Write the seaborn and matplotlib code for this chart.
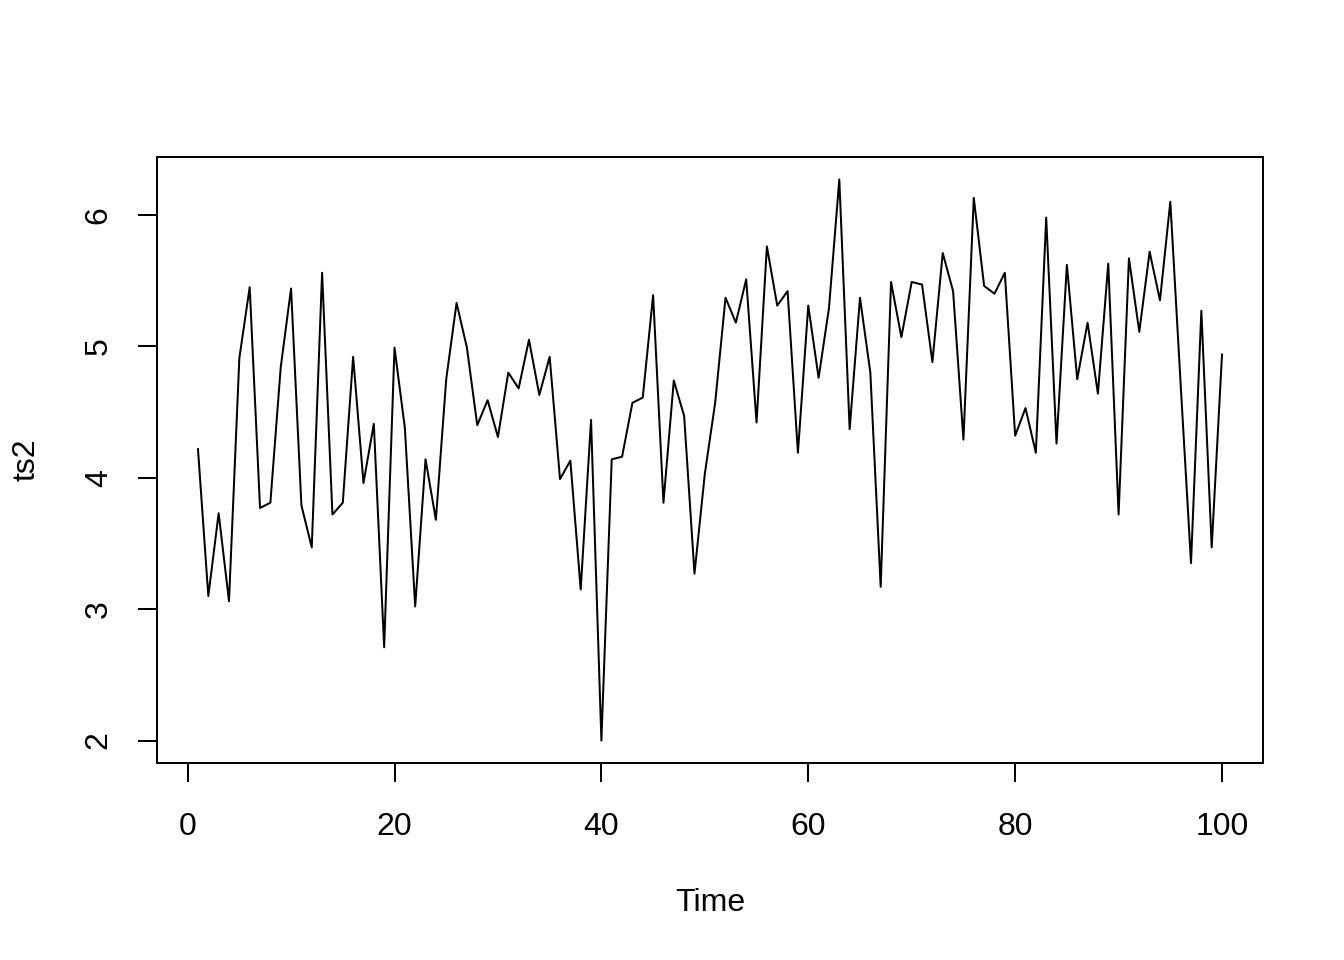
import numpy as np
import pandas as pd
import matplotlib
matplotlib.use("Agg")
import matplotlib.pyplot as plt
import seaborn as sns

time = list(range(1, 101))
ts2 = [
    4.22, 3.10, 3.73, 3.06, 4.91, 5.45, 3.77, 3.81, 4.84, 5.44,
    3.79, 3.47, 5.56, 3.72, 3.81, 4.92, 3.96, 4.41, 2.71, 4.99,
    4.38, 3.02, 4.14, 3.68, 4.75, 5.33, 4.99, 4.40, 4.59, 4.31,
    4.80, 4.68, 5.05, 4.63, 4.92, 3.99, 4.13, 3.15, 4.44, 2.00,
    4.14, 4.16, 4.57, 4.61, 5.39, 3.81, 4.74, 4.47, 3.27, 4.03,
    4.57, 5.37, 5.18, 5.51, 4.42, 5.76, 5.31, 5.42, 4.19, 5.31,
    4.76, 5.29, 6.27, 4.37, 5.37, 4.80, 3.17, 5.49, 5.07, 5.49,
    5.47, 4.88, 5.71, 5.42, 4.29, 6.13, 5.46, 5.40, 5.56, 4.32,
    4.53, 4.19, 5.98, 4.26, 5.62, 4.75, 5.18, 4.64, 5.63, 3.72,
    5.67, 5.11, 5.72, 5.35, 6.10, 4.71, 3.35, 5.27, 3.47, 4.94,
]
x_ticks = [0, 20, 40, 60, 80, 100]
y_ticks = [2, 3, 4, 5, 6]
x_title = "Time"
y_title = "ts2"

df = pd.DataFrame({"Time": time, "ts2": ts2})

sns.set_theme(style="ticks")
plt.rcParams["font.family"] = ["Liberation Sans", "DejaVu Sans"]

fig = plt.figure(figsize=(7, 5), dpi=192)
ax = fig.add_axes([157/1344, 1 - 763/960, (1263-157)/1344, (763-157)/960])

sns.lineplot(data=df, x="Time", y="ts2", ax=ax, color="black", linewidth=0.75)

ax.margins(x=0.04, y=0.04)
ax.set_xticks(x_ticks)
ax.set_yticks(y_ticks)
ax.set_xticklabels([str(v) for v in x_ticks])
ax.set_yticklabels([str(v) for v in y_ticks], rotation=90, va="center")

for s in ax.spines.values():
    s.set_visible(True)
    s.set_color("black")
    s.set_linewidth(0.75)

ax.tick_params(axis="both", direction="out", length=7.2, width=0.75,
               color="black", labelsize=12, labelcolor="black")
ax.tick_params(axis="x", pad=11)
ax.tick_params(axis="y", pad=9)

ax.set_xlabel(x_title, fontsize=12, color="black", labelpad=17.5)
ax.set_ylabel(y_title, fontsize=12, color="black", labelpad=16)
ax.grid(False)

fig.savefig("out.png", dpi=192, facecolor="white")
